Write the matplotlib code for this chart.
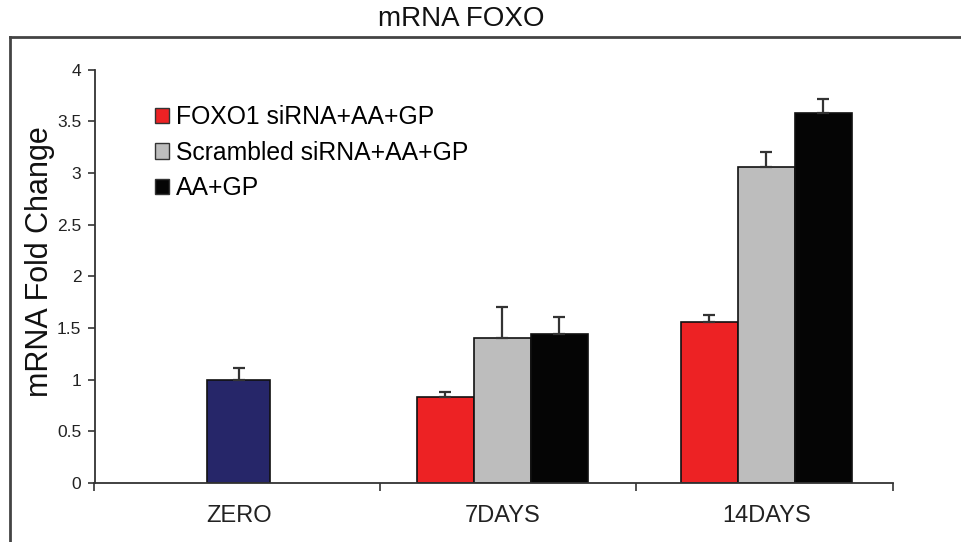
import matplotlib
matplotlib.use("Agg")
import matplotlib.pyplot as plt
from matplotlib.patches import Patch
from matplotlib.lines import Line2D
import numpy as np

plt.rcParams['font.family'] = ['Liberation Sans', 'DejaVu Sans']

# ---- data ----
title = "mRNA FOXO"
ylabel = "mRNA Fold Change"
categories = ["ZERO", "7DAYS", "14DAYS"]
series_names = ["FOXO1 siRNA+AA+GP", "Scrambled siRNA+AA+GP", "AA+GP"]

zero_value = [1.0]
zero_err = [0.11]

# values for 7DAYS and 14DAYS
foxo1_vals = [0.835, 1.555]
foxo1_errs = [0.05, 0.07]
scrambled_vals = [1.40, 3.06]
scrambled_errs = [0.30, 0.14]
aagp_vals = [1.44, 3.58]
aagp_errs = [0.17, 0.13]

yticks = [0, 0.5, 1, 1.5, 2, 2.5, 3, 3.5, 4]
ytick_labels = ["0", "0.5", "1", "1.5", "2", "2.5", "3", "3.5", "4"]

colors = ["#ED2224", "#BDBDBD", "#050505"]
zero_color = "#262669"

# ---- figure ----
W, H = 961, 542
fig = plt.figure(figsize=(W / 100, H / 100), dpi=100)
ax = fig.add_axes([94.5 / W, 1 - 483 / H, (893 - 94.5) / W, (483 - 69.5) / H])

x = np.arange(len(categories))
bw = 0.216
err_kw = dict(ecolor="#333333", elinewidth=1.6, capsize=4.5, capthick=1.6)

ax.bar(x[0], zero_value, width=0.239, color=zero_color, edgecolor="#111111",
       linewidth=1.2, yerr=[[0], zero_err], error_kw=err_kw, zorder=2)

series_vals = [foxo1_vals, scrambled_vals, aagp_vals]
series_errs = [foxo1_errs, scrambled_errs, aagp_errs]
for i, (vals, errs) in enumerate(zip(series_vals, series_errs)):
    xs = x[1:] + (i - 1) * bw
    ax.bar(xs, vals, width=bw, color=colors[i], edgecolor="#111111",
           linewidth=1.2, yerr=[np.zeros(len(errs)), errs], error_kw=err_kw,
           zorder=2)

x0, x1 = -0.546, 2.48
ax.set_xlim(x0, x1)
ax.set_ylim(0, 4)
ax.set_yticks(yticks)
ax.set_yticklabels(ytick_labels, fontsize=12.5, color="#222222")
ax.set_xticks(x)
ax.set_xticklabels(categories, fontsize=17, color="#222222")
ax.set_xticks([x0, 0.535, 1.506, x1], minor=True)
ax.tick_params(axis='x', which='major', length=0, pad=16)
ax.tick_params(axis='x', which='minor', length=6, width=1.2, color="#333333",
               direction='out')
ax.tick_params(axis='y', length=5, width=1.2, color="#333333", pad=4.5)

for s in ["top", "right"]:
    ax.spines[s].set_visible(False)
for s in ["left", "bottom"]:
    ax.spines[s].set_color("#333333")
    ax.spines[s].set_linewidth(1.3)

handles = [Patch(facecolor=c, edgecolor="#333333", linewidth=1.0) for c in colors]
ax.legend(handles, series_names, loc="upper left",
          bbox_to_anchor=(60.5 / 798.5, 1 - (105 - 69.5) / 413.5),
          frameon=False, fontsize=17.8, handlelength=0.58, handleheight=0.58,
          handletextpad=0.28, labelspacing=0.47, borderpad=0, borderaxespad=0)

fig.text(461.5 / W, 1 - 19 / H, title, ha="center", va="center", fontsize=20,
         color="#111111")
fig.text(40 / W, 1 - 262 / H, ylabel, ha="center", va="center", rotation=90,
         fontsize=22, color="#111111")

# outer frame (top and left edges visible)
fig.add_artist(Line2D([10 / W, 1.0], [1 - 37 / H, 1 - 37 / H],
                      transform=fig.transFigure, color="#444444", linewidth=2))
fig.add_artist(Line2D([10 / W, 10 / W], [0, 1 - 37 / H],
                      transform=fig.transFigure, color="#444444", linewidth=2))

fig.savefig("out.png", dpi=100)
